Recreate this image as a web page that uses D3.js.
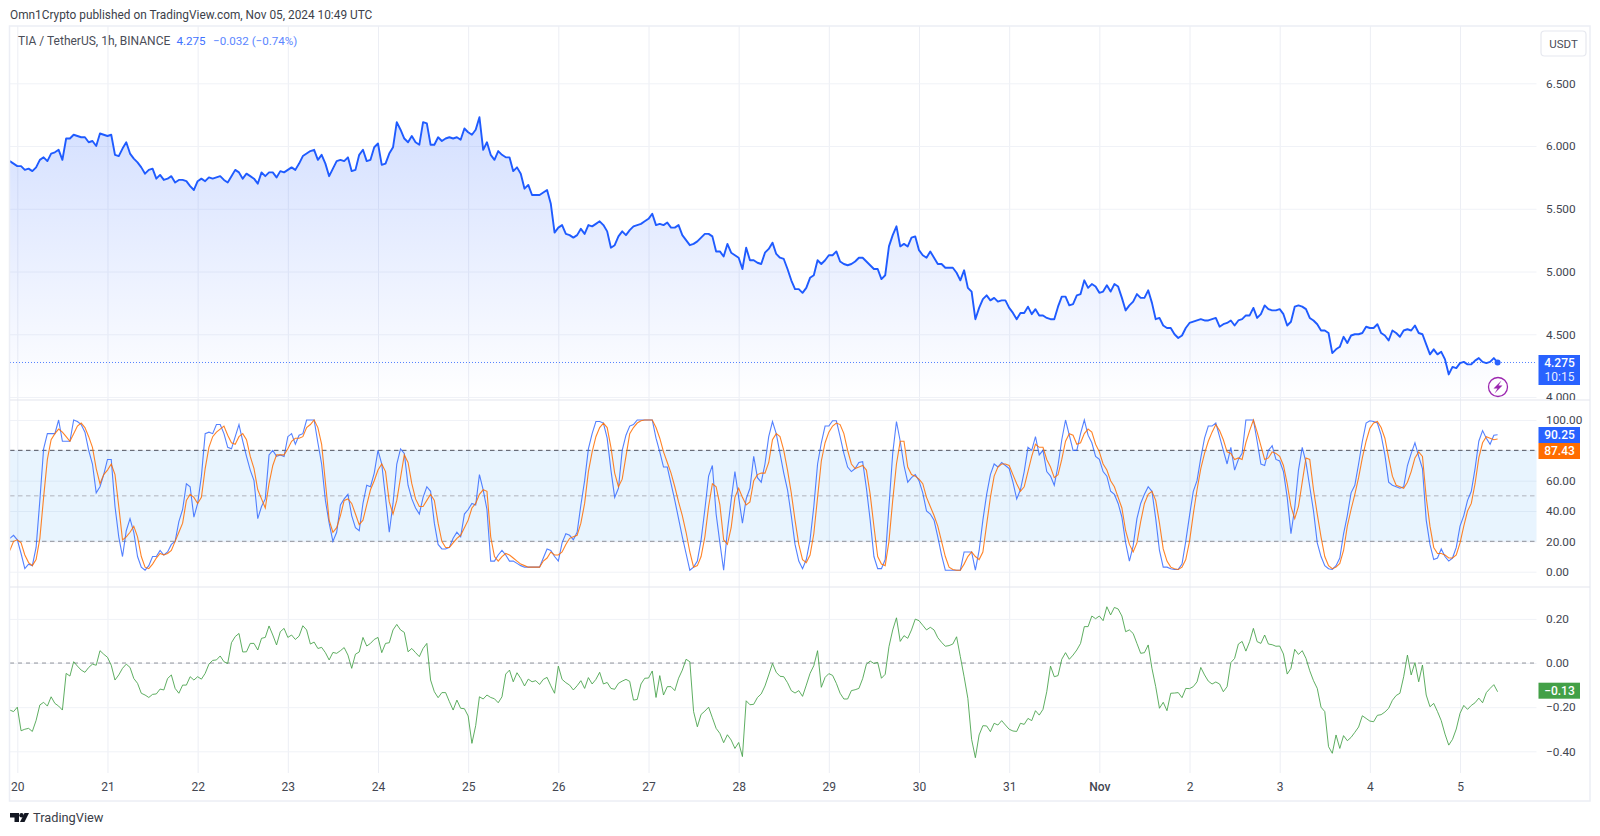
<!DOCTYPE html>
<html><head><meta charset="utf-8">
<script src="https://d3js.org/d3.v7.min.js"></script>
<style>
html,body{margin:0;padding:0;background:#fff;overflow:hidden}
svg{display:block}
text{font-family:Roboto,sans-serif}
.tick text{font-family:Roboto,sans-serif}
</style></head><body>
<svg id="c" width="1600" height="836"></svg>
<script>
const firstHour = -2;
const dayHours = [0,24,48,72,96,120,144,168,192,216,240,264,288,312,336,360,384];
const dayLabels = ["20","21","22","23","24","25","26","27","28","29","30","31","Nov","2","3","4","5"];
const priceTicks = [4,4.5,5,5.5,6,6.5];
const stochTicks = [0,20,40,60,100];
const cmfTicks = [-0.4,-0.2,0,0.2];
const lastPrice = 4.275;

const price = [
5.88,5.86,5.84,5.84,5.81,5.82,5.80,5.83,5.89,5.91,5.88,5.94,5.95,5.97,5.89,6.06,6.06,6.09,6.08,6.07,6.07,6.03,6.04,6.00,6.10,6.09,6.08,6.09,5.93,5.92,
5.98,6.03,5.94,5.90,5.87,5.83,5.78,5.81,5.82,5.74,5.77,5.73,5.74,5.76,5.71,5.73,5.73,5.72,5.68,5.65,5.72,5.74,5.72,5.75,5.74,5.75,5.76,5.73,5.71,5.76,
5.81,5.79,5.74,5.78,5.76,5.74,5.70,5.79,5.76,5.79,5.79,5.75,5.80,5.79,5.81,5.83,5.81,5.86,5.92,5.94,5.96,5.97,5.89,5.93,5.86,5.76,5.82,5.88,5.89,5.88,
5.91,5.80,5.81,5.93,5.97,5.88,5.89,5.99,6.02,5.85,5.86,5.94,5.99,6.19,6.13,6.06,6.03,6.08,6.03,6.01,6.19,6.18,6.01,6.01,6.07,6.04,6.06,6.07,6.06,6.07,
6.05,6.14,6.11,6.09,6.13,6.23,5.97,6.03,5.93,5.89,5.96,5.93,5.91,5.91,5.80,5.83,5.78,
5.66,5.69,5.61,5.61,5.61,5.63,5.65,5.54,5.31,5.35,5.37,5.30,5.29,5.27,5.29,5.34,5.30,5.37,5.36,5.38,5.40,5.37,5.32,5.19,5.21,5.28,5.32,5.29,5.33,5.36,
5.37,5.38,5.40,5.42,5.46,5.37,5.38,5.37,5.39,5.35,5.35,5.37,5.29,5.25,5.21,5.22,5.24,5.27,5.30,5.30,5.28,5.16,5.16,5.12,5.22,5.15,5.13,5.11,5.02,5.19,
5.09,5.09,5.07,5.06,5.15,5.18,5.23,5.14,5.11,5.10,5.02,4.93,4.86,4.86,4.83,4.87,4.95,4.97,5.09,5.06,5.09,5.13,5.13,5.16,5.08,5.06,5.05,5.06,5.08,5.11,
5.11,5.08,5.05,5.02,5.02,4.94,4.97,5.20,5.29,5.36,5.20,5.22,5.20,5.27,5.28,5.17,5.13,5.11,5.16,5.11,5.06,5.06,5.03,5.03,5.03,4.99,4.93,5.01,4.87,4.84,
4.62,4.71,4.78,4.81,4.77,4.79,4.76,4.77,4.77,4.71,4.67,4.62,4.67,
4.67,4.72,4.66,4.70,4.65,4.65,4.63,4.62,4.62,4.72,4.80,4.80,4.73,4.74,4.81,4.82,4.93,4.87,4.90,4.88,4.83,4.84,4.89,4.84,4.90,4.88,4.79,4.69,4.73,4.76,
4.82,4.79,4.79,4.85,4.75,4.62,4.63,4.57,4.55,4.55,4.50,4.47,4.49,4.55,4.59,4.60,4.61,4.62,4.61,4.61,4.62,4.63,4.56,4.58,4.59,4.61,4.57,4.61,4.62,4.65,
4.65,4.71,4.63,4.66,4.73,4.70,4.69,4.69,4.70,4.66,4.57,4.60,4.72,4.73,4.72,4.70,4.63,4.61,4.58,4.53,4.53,4.51,4.35,4.38,4.40,4.48,4.43,4.49,4.50,4.50,
4.51,4.56,4.55,4.55,4.58,4.51,4.49,4.45,4.53,4.51,4.48,4.53,4.54,4.53,4.57,4.51,4.50,4.42,4.34,4.38,4.34,4.36,4.30,4.18,4.24,4.23,4.27,4.28,4.26,4.26,
4.29,4.31,4.28,4.27,4.28,4.31,4.275];

const stochK = [
22,24,21,12,2,5,4,16,47,81,91,91,91,100,86,86,86,100,99,97,92,80,71,52,56,64,74,74,43,23,
10,27,35,26,10,3,1,4,10,10,14,11,13,18,20,33,41,58,56,36,45,63,91,92,91,97,97,91,82,81,
89,97,86,76,67,60,35,43,48,77,80,76,77,76,89,91,84,90,91,100,100,100,85,71,47,32,20,26,44,48,
51,37,29,27,45,57,56,65,80,71,49,26,45,71,81,78,57,48,42,38,49,56,53,32,18,15,15,16,22,26,
23,38,41,45,44,64,54,41,7,7,11,14,11,7,7,5.5,4,
3,3,3,3,3,9,15,14,10,7,19,25,24,21,26,44,60,81,91,99,99,98,88,67,49,55,80,90,96,97,
100,100,100,100,100,88,79,69,69,58,47,35,23,12,1,3,7,21,41,63,70,38,19,1,27,47,66,49,32,48,
55,76,62,59,71,89,99,91,78,65,54,37,18,7,2,8,21,43,71,85,96,96,99.5,99.5,89,78,69,66,68,72,
72.5,55,34,10,2,2,8,43,78,99,86,70,59,62,64,60,52,40,38,34,23,11,1,1,1,1,1,13,13,13,
1,14,34,51,64,71,69,72,70,68,59,48,54,
66,82,80,89,77,80,66,63,57,70,87,100,90,80,80,91,100,90,85,76,74,66,63,53,51,45,36,19,7,17,
35,45,51,56,53,35,14,3,3,2,1.5,1.5,5,20,37,53,60,75,88,96,96,98,89,80,71,82,67,74,78,100,
100,100,86,71,70,80,83,74,73,66,49,25,42,67,82,72,56,40,19,10,4,2,1.5,4,9,25,37,52,57,71,
86,98,99.5,99,98,90,77,59,57,56,55,56,70,78,85,76,68,34,18,8,9,15,10,7,9,16,30,37,47,53,
68,86,93,88,84,90,90.25];

const stochD = [
14,20,21,19,11,6,4,8,22,49,74,87,91,94,92,89,86,91,96,98,95,89,82,68,58,64,67,71,64,43,
21,23,26,30,23,10,3,2,5,9,12,11,12,14,20,26,32,47,51,49,45,49,68,82,89,92,94,96,90,85,
84,89,91,87,76,68,54,48,42,58,70,77,77,77,81,86,88,88,89,95,97,100,95,84,59,34,26,29,37,47,
48,45,38,31,34,44,54,60,67,71,66,46,38,47,62,77,72,58,48,43,43,47,51,47,32,20,16,16,19,22,
24,29,34,42,45,51,54,53,23,10,7,10,12,11,9,7,5,
4,3,3,3,3,7,9,13,11,11,13,18,22,23,24,32,45,66,79,89,95,98,95,82,65,56,61,76,91,95,
98,99.5,100,100,100,95,88,79,72,65,56,46,37,26,13,3,4,10,23,43,58,56,44,21,18,29,49,55,49,44,
46,60,64,65,65,72,87,91,89,80,67,52,34,18,8,6,11,25,49,73,85,92,96,98,97,91,80,71,68,69,
70,67,51,30,10,5,4,20,47,71,86,86,69,64,63,61,58,49,43,37,30,20,10,3,1.5,1,1,5,10,13,
10,8,13,31,49,63,69,71,71,70,64,58,53,
56,66,76,84,82,82,74,69,62,64,74,86,91,90,84,85,91,94,92,84,79,71,67,60,56,49,42,27,18,13,
19,33,45,51,53,47,32,15,7,3,2,1.5,3,8,20,38,54,68,78,86,92,97,93,87,79,78,74,75,74,85,
93,100,92,83,74,75,79,78,76,70,58,43,35,43,59,75,74,54,38,23,10,4,2,3,5.5,14,30,41,51,62,
75,86,94.5,98,99,95,88,75,63,57,56,55,59,66,75,79,76,49,30,16,12,12,11,9,9,11,19,30,40,45,
58,75,85,89,88,87,87.43];

const cmf = [
-0.213,-0.22,-0.20,-0.307,-0.30,-0.296,-0.31,-0.26,-0.19,-0.178,-0.195,-0.153,-0.183,-0.195,-0.213,-0.047,-0.059,0.006,-0.014,-0.032,-0.042,-0.02,-0.005,-0.01,0.056,0.04,0.026,-0.01,-0.077,-0.054,
-0.024,-0.005,-0.02,-0.07,-0.092,-0.137,-0.145,-0.156,-0.142,-0.14,-0.118,-0.122,-0.07,-0.054,-0.115,-0.137,-0.10,-0.10,-0.062,-0.077,-0.062,-0.073,-0.047,-0.005,0.012,0.014,0.032,0.006,-0.002,0.092,
0.12,0.134,0.05,0.051,0.089,0.089,0.059,0.112,0.116,0.168,0.127,0.082,0.142,0.157,0.116,0.127,0.107,0.122,0.169,0.15,0.086,0.095,0.066,0.071,0.047,0.014,0.048,0.044,0.056,0.07,
0.036,-0.024,0.04,0.05,0.116,0.077,0.089,0.107,0.116,0.047,0.089,0.092,0.15,0.175,0.15,0.139,0.051,0.066,0.047,0.029,0.066,0.089,-0.077,-0.13,-0.157,-0.134,-0.134,-0.175,-0.213,-0.168,
-0.205,-0.207,-0.24,-0.364,-0.284,-0.153,-0.163,-0.145,-0.156,-0.162,-0.18,-0.153,-0.05,-0.032,-0.085,-0.044,-0.07,
-0.104,-0.073,-0.085,-0.08,-0.097,-0.074,-0.065,-0.103,-0.137,-0.014,-0.074,-0.089,-0.10,-0.122,-0.103,-0.08,-0.115,-0.066,-0.095,-0.074,-0.042,-0.095,-0.088,-0.115,-0.119,-0.092,-0.082,-0.074,-0.083,-0.168,
-0.165,-0.095,-0.069,-0.068,-0.036,-0.156,-0.057,-0.145,-0.107,-0.107,-0.125,-0.069,-0.032,0.017,0.006,-0.22,-0.289,-0.233,-0.218,-0.20,-0.248,-0.296,-0.319,-0.361,-0.325,-0.349,-0.387,-0.36,-0.424,-0.171,
-0.189,-0.187,-0.156,-0.14,-0.104,-0.054,-0.002,-0.042,-0.06,-0.062,-0.089,-0.125,-0.136,-0.125,-0.151,-0.10,-0.047,-0.012,0.056,-0.11,-0.065,-0.048,-0.056,-0.092,-0.137,-0.163,-0.163,-0.125,-0.121,-0.115,
-0.071,-0.005,0.009,-0.002,0.003,-0.069,-0.051,0.074,0.15,0.205,0.098,0.124,0.112,0.15,0.199,0.192,0.171,0.15,0.162,0.15,0.115,0.094,0.076,0.079,0.086,0.119,0.029,-0.062,-0.16,-0.346,
-0.429,-0.326,-0.284,-0.285,-0.311,-0.273,-0.281,-0.261,-0.281,-0.30,-0.308,-0.31,-0.273,
-0.278,-0.251,-0.261,-0.216,-0.236,-0.21,-0.13,-0.014,-0.062,-0.057,0.017,0.047,0.017,0.036,0.059,0.089,0.165,0.165,0.213,0.201,0.213,0.192,0.255,0.218,0.252,0.245,0.213,0.142,0.15,0.134,
0.089,0.044,0.047,0.082,-0.024,-0.107,-0.205,-0.178,-0.216,-0.137,-0.136,-0.134,-0.157,-0.115,-0.116,-0.107,-0.085,-0.02,-0.054,-0.082,-0.095,-0.086,-0.095,-0.13,-0.107,0.002,0.021,0.086,0.098,0.054,
0.097,0.157,0.097,0.089,0.127,0.086,0.083,0.076,0.077,0.041,-0.05,-0.024,0.062,0.039,0.056,0.021,-0.035,-0.08,-0.115,-0.20,-0.22,-0.379,-0.409,-0.326,-0.387,-0.329,-0.352,-0.337,-0.314,-0.29,
-0.239,-0.251,-0.263,-0.266,-0.237,-0.234,-0.222,-0.205,-0.169,-0.147,-0.137,-0.062,0.036,-0.054,0.002,-0.085,-0.009,-0.145,-0.198,-0.183,-0.22,-0.261,-0.322,-0.372,-0.346,-0.299,-0.228,-0.192,-0.21,-0.192,
-0.18,-0.159,-0.18,-0.134,-0.115,-0.098,-0.13];

const svg = d3.select("#c");
const plotL = 10, plotR = 1536.5, frameR = 1590, frameT = 26, divA = 400, divB = 587, gridB = 773, frameB = 801;
const x = d3.scaleLinear().domain([-2,394]).range([9.8,1497.6]);
const yP = d3.scaleLinear().domain([4,6.5]).range([397,83.3]);
const yS = d3.scaleLinear().domain([0,100]).range([571.7,420]);
const yC = d3.scaleLinear().domain([-0.4,0.2]).range([751.3,618.9]);
const hourOf = i => firstHour + i;

const defs = svg.append("defs");
const grad = defs.append("linearGradient").attr("id","areaFill").attr("gradientUnits","userSpaceOnUse")
  .attr("x1",0).attr("x2",0).attr("y1",yP(6.23)).attr("y2",divA);
grad.append("stop").attr("offset",0).attr("stop-color","#2962ff").attr("stop-opacity",0.2);
grad.append("stop").attr("offset",1).attr("stop-color","#2962ff").attr("stop-opacity",0.0);
const clip = (id,a,b,l,r) => defs.append("clipPath").attr("id",id).append("rect").attr("x",l).attr("y",a).attr("width",r-l).attr("height",b-a);
clip("axisPriceClip",frameT,divA,1536,1590);

// header
svg.append("text").attr("x",10).attr("y",19).attr("font-size",11.85).attr("fill","#3c3f4a")
  .text("Omn1Crypto published on TradingView.com, Nov 05, 2024 10:49 UTC");

// vertical grid
svg.append("g").attr("transform",`translate(0,${gridB})`)
  .call(d3.axisBottom(x).tickValues(dayHours).tickSize(-(gridB-frameT)).tickFormat(""))
  .call(g=>{g.select(".domain").remove();g.selectAll("line").attr("stroke","#eceef4").attr("stroke-width",1);});

// horizontal grids
function hgrid(scale,vals){
  svg.append("g").attr("transform",`translate(${plotR},0)`)
   .call(d3.axisLeft(scale).tickValues(vals).tickSize(plotR-plotL).tickFormat(""))
   .call(g=>{g.select(".domain").remove();g.selectAll("line").attr("stroke","#f0f2f7").attr("stroke-width",1);});
}
hgrid(yP,priceTicks); hgrid(yS,[0,20,40,60,80,100]); hgrid(yC,cmfTicks);

// stoch band
svg.append("rect").attr("x",plotL).attr("width",plotR-plotL).attr("y",yS(80)).attr("height",yS(20)-yS(80))
   .attr("fill","#2196f3").attr("fill-opacity",0.1);
function level(scale,v,col,w,dash){
  svg.append("line").attr("x1",plotL).attr("x2",plotR).attr("y1",scale(v)).attr("y2",scale(v))
   .attr("stroke",col).attr("stroke-width",w).attr("stroke-dasharray",dash);
}
level(yS,80,"#50535e",1,"4.5,3.5");
level(yS,50,"#b0b3bc",1,"4.5,3.5");
level(yS,20,"#a0a3ac",1.4,"4.5,3.5");
level(yC,0,"#8f929b",1,"4,4");

// price area + line
const ln = s => d3.line().x((d,i)=>x(hourOf(i))).y(d=>s(d));
svg.append("path").datum(price).attr("fill","url(#areaFill)")
  .attr("d",d3.area().x((d,i)=>x(hourOf(i))).y0(divA).y1(d=>yP(d)));
svg.append("line").attr("x1",plotL).attr("x2",plotR).attr("y1",yP(lastPrice)).attr("y2",yP(lastPrice))
  .attr("stroke","#2962ff").attr("stroke-opacity",0.8).attr("stroke-dasharray","1,2").attr("stroke-width",1);
svg.append("path").datum(price).attr("fill","none").attr("stroke","#1f5bff").attr("stroke-width",1.9)
  .attr("stroke-linejoin","round").attr("d",ln(yP));
svg.append("circle").attr("cx",x(394)).attr("cy",yP(lastPrice)).attr("r",3).attr("fill","#2962ff");

// stoch
svg.append("path").datum(stochK).attr("fill","none").attr("stroke","#2962ff").attr("stroke-opacity",0.8).attr("stroke-width",1.1).attr("d",ln(yS));
svg.append("path").datum(stochD).attr("fill","none").attr("stroke","#ff6d00").attr("stroke-opacity",0.85).attr("stroke-width",1.1).attr("d",ln(yS));
// cmf
svg.append("path").datum(cmf).attr("fill","none").attr("stroke","#43a047").attr("stroke-opacity",0.85).attr("stroke-width",1).attr("d",ln(yC));

// frame + dividers
svg.append("rect").attr("x",9.5).attr("y",frameT).attr("width",frameR-9.5).attr("height",frameB-frameT)
  .attr("fill","none").attr("stroke","#eceef5").attr("stroke-width",1.5);
[divA,divB].forEach(y=>svg.append("line").attr("x1",10).attr("x2",frameR).attr("y1",y).attr("y2",y).attr("stroke","#e3e6ee").attr("stroke-width",1.2));

// axes
const minus = s => s.replace("-","\u2212");
function rightAxis(scale,vals,fmt){
  const g = svg.append("g").attr("transform",`translate(1546,0)`)
    .call(d3.axisRight(scale).tickValues(vals).tickSize(0).tickPadding(0).tickFormat(d=>minus(fmt(d))));
  g.select(".domain").remove();
  g.selectAll("text").attr("font-size",11.8).attr("fill","#434651");
}
svg.append("g").attr("clip-path","url(#axisPriceClip)").append("g").attr("transform","translate(1546,0)")
  .call(d3.axisRight(yP).tickValues(priceTicks).tickSize(0).tickPadding(0).tickFormat(d3.format(".3f")))
  .call(g=>{g.select(".domain").remove();g.selectAll("text").attr("font-size",11.8).attr("fill","#434651");});
rightAxis(yS,stochTicks,d3.format(".2f"));
rightAxis(yC,cmfTicks,d3.format(".2f"));

svg.append("g").attr("transform",`translate(0,${gridB})`)
  .call(d3.axisBottom(x).tickValues(dayHours).tickSize(0).tickPadding(9).tickFormat((d,i)=>dayLabels[i]))
  .call(g=>{g.select(".domain").remove();
    g.selectAll("text").attr("font-size",12).attr("fill","#434651").attr("font-weight",(d,i)=>dayLabels[i]==="Nov"?500:400);});

// legend
const legend = svg.append("text").attr("x",18).attr("y",45).attr("font-size",11.6).attr("fill","#4a4d58");
legend.append("tspan").attr("font-size",12).text("TIA / TetherUS, 1h, BINANCE");
legend.append("tspan").attr("x",176.5).attr("fill","#3f72ff").text("4.275");
legend.append("tspan").attr("x",213).attr("fill","#5b86ff").text("\u22120.032 (\u22120.74%)");

// USDT button
svg.append("rect").attr("x",1541).attr("y",31).attr("width",45).attr("height",25).attr("rx",3.5).attr("fill","#fff").attr("stroke","#e6e8ef").attr("stroke-width",1.2);
svg.append("text").attr("x",1563.5).attr("y",48).attr("text-anchor","middle").attr("font-size",11.5).attr("fill","#4a4d58").text("USDT");

// value tags
function tag(yTop,h,col,lines){
  svg.append("rect").attr("x",1538.5).attr("y",yTop).attr("width",41.5).attr("height",h).attr("fill",col);
  lines.forEach(l=>svg.append("text").attr("x",1559.5).attr("y",l[1]).attr("text-anchor","middle")
    .attr("font-size",12).attr("font-weight",l[2]||500).attr("fill","#fff").attr("fill-opacity",l[3]||1).text(l[0]));
}
tag(355,30,"#2962ff",[["4.275",367],["10:15",381,400,0.9]]);
tag(427,16,"#2962ff",[["90.25",439.3]]);
tag(443,16,"#ff6d00",[["87.43",455.3]]);
tag(682.7,16,"#43a047",[["\u22120.13",695]]);

// lightning marker
svg.append("circle").attr("cx",1498).attr("cy",387).attr("r",9.5).attr("fill","#fff").attr("stroke","#9c27b0").attr("stroke-width",1.3);
svg.append("path").attr("d","M1501.5 380.5 L1493.5 388.5 L1497.5 388.5 L1494.5 393.5 L1502.5 385.5 L1498.5 385.5 Z").attr("fill","#9c27b0");

// logo
const logo = svg.append("g").attr("fill","#131722");
logo.append("path").attr("d","M10 813 H19 V822 H14.5 V817.5 H10 Z");
logo.append("circle").attr("cx",21.5).attr("cy",815.3).attr("r",2.2);
logo.append("path").attr("d","M24.5 813 H29 L24.5 822 H20 Z");
svg.append("text").attr("x",33).attr("y",822).attr("font-size",12.8).attr("fill","#3a3d48").text("TradingView");
</script>
</body></html>
